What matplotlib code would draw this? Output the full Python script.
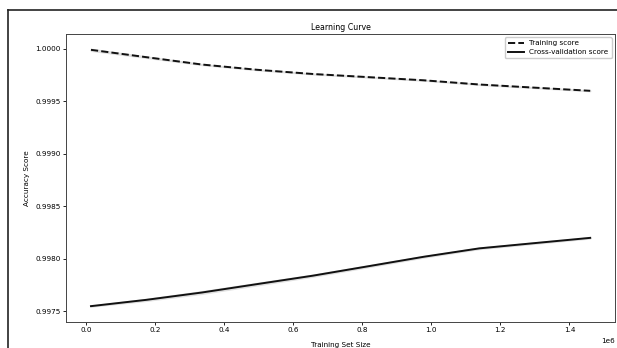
import matplotlib.pyplot as plt
import numpy as np

# Training set sizes (samples)
train_sizes = [14600, 175000, 336000, 496000, 657000, 818000, 978000, 1139000, 1299000, 1460000]

# Mean scores over the CV folds
train_mean = [0.99999, 0.99992, 0.99985, 0.99980, 0.99976, 0.99973, 0.99970, 0.99966, 0.99963, 0.99960]
test_mean = [0.99755, 0.99761, 0.99768, 0.99776, 0.99784, 0.99793, 0.99802, 0.99810, 0.99815, 0.99820]

# Spread over the folds
train_std = [0.000009, 0.000006, 0.000004, 0.000003, 0.000003, 0.000003, 0.000003, 0.000003, 0.000003, 0.000003]
test_std = [0.000004, 0.000009, 0.000012, 0.000011, 0.000009, 0.000008, 0.000007, 0.000006, 0.000006, 0.000005]

sizes = np.array(train_sizes)
tr = np.array(train_mean)
te = np.array(test_mean)
tr_s = np.array(train_std)
te_s = np.array(test_std)

fig = plt.figure(figsize=(6.17, 3.48), dpi=100)
ax = fig.add_axes([0.107, 0.075, 0.89, 0.828])

ax.fill_between(sizes, tr - tr_s, tr + tr_s, color='#E0E0E0')
ax.fill_between(sizes, te - te_s, te + te_s, color='#E0E0E0')
ax.plot(sizes, tr, '--', color='#111111', lw=1.4, label='Training score')
ax.plot(sizes, te, color='#111111', lw=1.4, label='Cross-validation score')

ax.set_ylim(0.99740, 1.000143)
ax.set_title('Learning Curve', fontsize=5.7, pad=3)
ax.set_xlabel('Training Set Size', fontsize=5.2, labelpad=6)
ax.set_ylabel('Accuracy Score', fontsize=5.2, labelpad=4)
ax.tick_params(labelsize=5.2, length=2, width=0.6, pad=2)
ax.xaxis.get_offset_text().set_fontsize(5.2)
for s in ax.spines.values():
    s.set_linewidth(0.7)
    s.set_color('#444444')
ax.legend(loc='upper right', fontsize=5.2, handlelength=2.2, borderpad=0.4,
          labelspacing=0.4, framealpha=1, edgecolor='#CCCCCC')

# outer frame lines along top and left edges
fig.add_artist(plt.Line2D([0.013, 1.0], [0.971, 0.971], color='#222222', lw=1.2))
fig.add_artist(plt.Line2D([0.013, 0.013], [0.0, 0.971], color='#222222', lw=1.2))

fig.savefig('out.png', dpi=100)
